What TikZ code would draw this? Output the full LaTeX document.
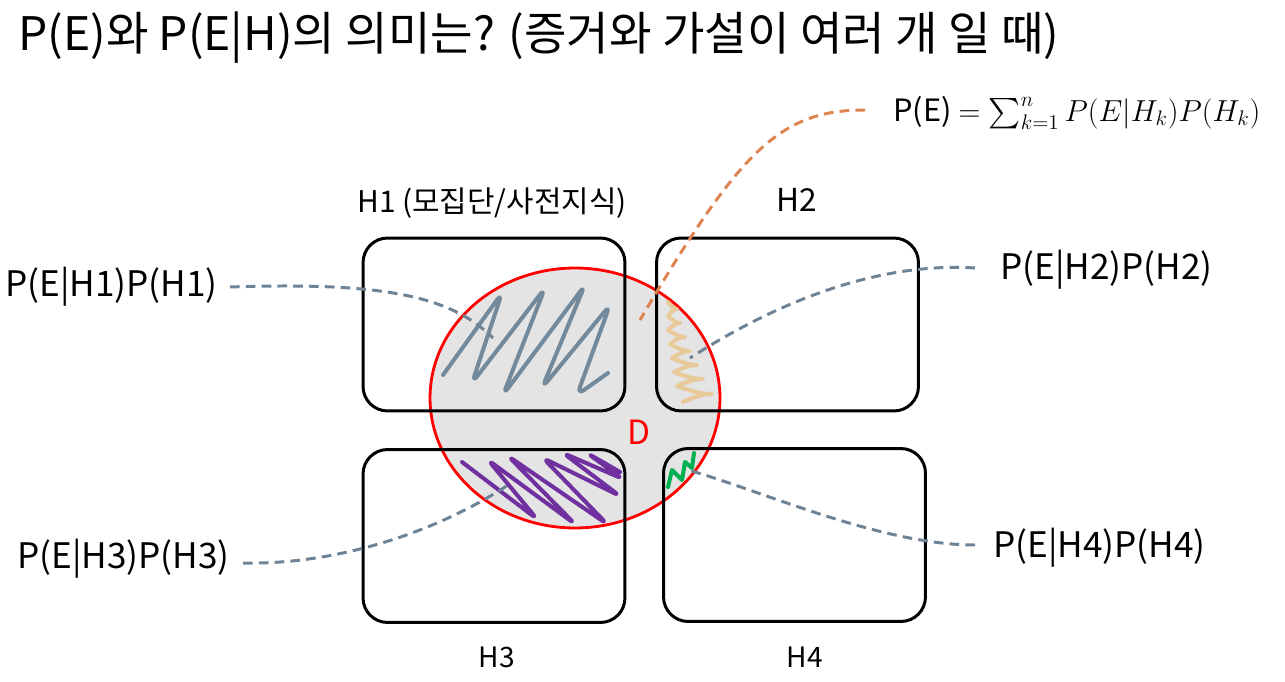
\documentclass[tikz,border=0pt]{standalone}
\usepackage{fontspec}
\setmainfont{Noto Sans CJK KR}
\usepackage{amsmath}
\usepackage{tikz}
\usetikzlibrary{shapes.geometric}
\definecolor{scribblue}{RGB}{114,138,156}
\definecolor{dashblue}{RGB}{110,132,150}
\definecolor{scribtan}{RGB}{232,201,154}
\definecolor{scribpurple}{RGB}{112,48,160}
\definecolor{scribgreen}{RGB}{0,176,80}
\definecolor{dashorange}{RGB}{221,132,82}
\definecolor{regiongray}{RGB}{228,228,228}

\begin{document}
\begin{tikzpicture}[
  x=0.02cm, y=-0.02cm,
  hbox/.style={draw=black, line width=1.7pt, rounded corners=14pt, minimum width=5.24cm, minimum height=3.46cm, inner sep=0pt},
  region/.style={ellipse, draw=red, fill=regiongray, line width=1.6pt, minimum width=5.8cm, minimum height=5.2cm, inner sep=0pt},
  term/.style={font=\fontsize{20}{24}\selectfont, inner sep=0pt},
  hname/.style={font=\fontsize{17}{22}\selectfont, inner sep=0pt},
  link/.style={draw=dashblue, line width=1.7pt, dash pattern=on 5.5pt off 3.5pt},
  scrib/.style={line width=2.3pt, line join=round, line cap=round}
]
  \useasboundingbox (0,0) rectangle (1285,682);

  % title
  \node[anchor=west, inner sep=0pt, font=\fontsize{26.3}{31}\selectfont] (title) at (18,38) {P(E)와 P(E|H)의 의미는? (증거와 가설이 여러 개 일 때)};

  % evidence region and hypotheses
  \node[region] (ellD) at (575,398) {};
  \node[hbox] (H1) at (494,324.5) {};
  \node[hbox] (H2) at (787.5,324.5) {};
  \node[hbox] (H3) at (494,536) {};
  \node[hbox] (H4) at (794.5,535) {};
  \node[text=red, inner sep=0pt, font=\fontsize{19}{22}\selectfont] (D) at (639,432) {D};

  \node[hname] (lH1) at (492,203) {H1 (모집단/사전지식)};
  \node[hname, font=\fontsize{18}{22}\selectfont] (lH2) at (797,200) {H2};
  \node[hname, font=\fontsize{16}{20}\selectfont] (lH3) at (497,657) {H3};
  \node[hname, font=\fontsize{16}{20}\selectfont] (lH4) at (805,657) {H4};

  % scribbles
  \draw[scrib, scribblue, rounded corners=5pt] (443,375) -- (502,293) -- (472,383) -- (545,288) -- (503,395) -- (585,285) -- (542,388) -- (610,305) -- (577,395) -- (608,373);
  \draw[scrib, scribtan] (668,302) sin (677,309) cos (668,316) sin (680,323) cos (668,330) sin (685,337) cos (670,344) sin (690,351) cos (672,358) sin (697,365) cos (674,372) sin (703,379) cos (677,386) sin (712,394) cos (683,402);
  \draw[scrib, scribpurple, rounded corners=4pt] (462,462) -- (537,519) -- (488,460) -- (575,524) -- (508,456) -- (607,524) -- (543,458) -- (620,496) -- (563,453) -- (623,479) -- (587,453) -- (620,472);
  \draw[scrib, scribgreen] (668,487) -- (672,470) -- (682,480) -- (685,462) -- (692,468) -- (694,453);

  % terms
  \node[term, anchor=east] (t1) at (218,287) {P(E|H1)P(H1)};
  \node[term, anchor=west] (t2) at (1000,270) {P(E|H2)P(H2)};
  \node[term, anchor=east] (t3) at (230,559) {P(E|H3)P(H3)};
  \node[term, anchor=west] (t4) at (993,548) {P(E|H4)P(H4)};
  \node[anchor=west, inner sep=0pt, font=\fontsize{17.5}{21}\selectfont] (sum) at (893,113) {P(E) $=\sum_{k=1}^{n} P(E|H_k)P(H_k)$};

  \coordinate (e1) at (493,338);
  \coordinate (e2) at (690,358);
  \coordinate (e3) at (508,485);
  \coordinate (e4) at (688,470);
  \coordinate (e5) at (640,320);

  \draw[link] (t1.east) ++(12,0) .. controls (380,282) and (450,295) .. (e1);
  \draw[link] (t2.west) ++(-25,-2) .. controls (880,262) and (780,300) .. (e2);
  \draw[link] (t3.east) ++(13,4) .. controls (340,565) and (440,530) .. (e3);
  \draw[link] (t4.west) ++(-18,-3) .. controls (880,545) and (760,490) .. (e4);
  \draw[link, draw=dashorange] (sum.west) ++(-28,-3) .. controls (780,110) and (740,150) .. (e5);
\end{tikzpicture}
\end{document}
